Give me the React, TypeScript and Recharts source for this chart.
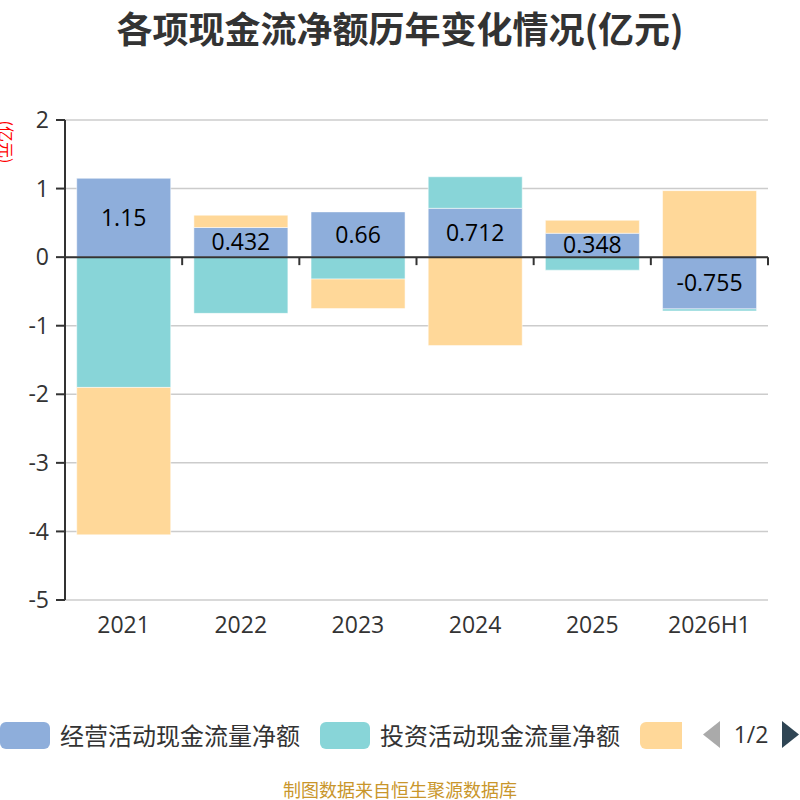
import React from 'react';
import { BarChart, Bar, XAxis, YAxis, CartesianGrid, ReferenceLine, LabelList } from 'recharts';

const categories = ['2021', '2022', '2023', '2024', '2025', '2026H1'];
const operating = [1.15, 0.432, 0.66, 0.712, 0.348, -0.755];
const investing = [-1.9, -0.82, -0.32, 0.46, -0.19, -0.03];
const financing = [-2.15, 0.18, -0.43, -1.29, 0.19, 0.97];
const yTicks = [-5, -4, -3, -2, -1, 0, 1, 2];
const seriesNames = ['经营活动现金流量净额', '投资活动现金流量净额', '筹资活动现金流量净额'];
const colors = ['#8eaedb', '#88d5d8', '#ffd899'];

const data = categories.map((c, i) => ({
  name: c,
  operating: operating[i],
  investing: investing[i],
  financing: financing[i],
}));

const FONT = '"Noto Sans CJK SC", "Noto Sans", sans-serif';
const NUMFONT = '"Open Sans", "Noto Sans CJK SC", sans-serif';

const ZeroLine = (props: any) => {
  const { x1, y1, x2 } = props;
  const n = categories.length;
  const step = (x2 - x1) / n;
  const ticks = [];
  for (let i = 1; i <= n; i++) {
    const x = x1 + step * i;
    ticks.push(<line key={i} x1={x} y1={y1} x2={x} y2={y1 + 8} stroke="#333" strokeWidth={2} />);
  }
  return (
    <g>
      <line x1={x1} y1={y1} x2={x2} y2={y1} stroke="#333" strokeWidth={2} />
      {ticks}
    </g>
  );
};

export default function App() {
  return (
    <div style={{ position: 'absolute', left: 0, top: 0, width: 800, height: 800, background: '#fff', fontFamily: FONT, overflow: 'hidden' }}>
      <div style={{ position: 'absolute', top: 3, left: 0, width: 800, textAlign: 'center', fontSize: 36, fontWeight: 'bold', color: '#333', lineHeight: '48px' }}>
        各项现金流净额历年变化情况(亿元)
      </div>
      <div style={{ position: 'absolute', left: -18, top: 133, width: 50, height: 18, transform: 'rotate(90deg)', fontSize: 16, color: '#ff0000', lineHeight: '18px', textAlign: 'center', whiteSpace: 'nowrap' }}>
        (亿元)
      </div>
      <div style={{ position: 'absolute', left: 0, top: 0 }}>
        <BarChart
          width={800}
          height={640}
          data={data}
          stackOffset="sign"
          barCategoryGap="10%"
          margin={{ top: 120, right: 32, left: 0, bottom: 0 }}
        >
          <CartesianGrid vertical={false} stroke="#cccccc" strokeWidth={1.5} />
          <XAxis
            dataKey="name"
            axisLine={false}
            tickLine={false}
            height={40}
            tickMargin={11}
            tick={{ fontSize: 23, fill: '#333', fontFamily: NUMFONT }}
          />
          <YAxis
            domain={[-5, 2]}
            ticks={yTicks}
            interval={0}
            width={65}
            axisLine={{ stroke: '#333', strokeWidth: 2 }}
            tickLine={{ stroke: '#333', strokeWidth: 2 }}
            tickSize={9}
            tickMargin={7}
            tick={{ fontSize: 23, fill: '#333', fontFamily: NUMFONT }}
          />
          <Bar dataKey="operating" stackId="a" fill={colors[0]} stroke="#ffffff" strokeOpacity={0.5} isAnimationActive={false}>
            <LabelList dataKey="operating" position="center" fill="#000" fontSize={23} fontFamily={NUMFONT} />
          </Bar>
          <Bar dataKey="investing" stackId="a" fill={colors[1]} stroke="#ffffff" strokeOpacity={0.5} isAnimationActive={false} />
          <Bar dataKey="financing" stackId="a" fill={colors[2]} stroke="#ffffff" strokeOpacity={0.5} isAnimationActive={false} />
          <ReferenceLine y={0} stroke="#333" shape={ZeroLine} />
        </BarChart>
      </div>
      <div style={{ position: 'absolute', left: 0, top: 721, width: 682, height: 28, overflow: 'hidden', whiteSpace: 'nowrap' }}>
        {seriesNames.map((n, i) => (
          <span key={n} style={{ position: 'absolute', left: i * 320, top: 0, display: 'flex', alignItems: 'center', height: 28 }}>
            <span style={{ display: 'inline-block', width: 50, height: 27, borderRadius: 6, background: colors[i] }} />
            {i < 2 ? <span style={{ marginLeft: 10, fontSize: 24, color: '#333', lineHeight: '28px' }}>{n}</span> : null}
          </span>
        ))}
      </div>
      <svg style={{ position: 'absolute', left: 700, top: 721 }} width={100} height={28}>
        <polygon points="20,0 20,27 3,13.5" fill="#aaaaaa" />
        <text x={51} y={22} textAnchor="middle" fontSize={23} fill="#333" fontFamily={NUMFONT}>1/2</text>
        <polygon points="82,0 82,27 99,13.5" fill="#2f4554" />
      </svg>
      <div style={{ position: 'absolute', top: 777, left: 0, width: 800, textAlign: 'center', fontSize: 18, color: '#c9962b', lineHeight: '24px' }}>
        制图数据来自恒生聚源数据库
      </div>
    </div>
  );
}
